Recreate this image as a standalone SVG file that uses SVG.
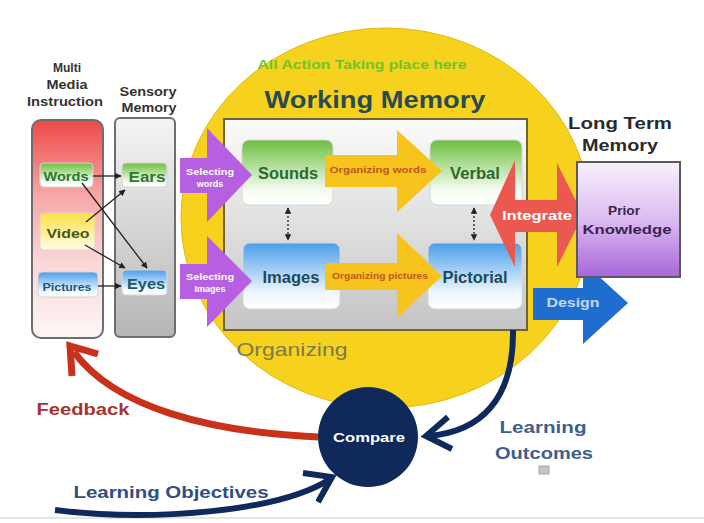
<svg xmlns="http://www.w3.org/2000/svg" width="704" height="523" viewBox="0 0 704 523">
<defs>
<style>
text{font-family:"Liberation Sans",Arial,sans-serif;font-weight:bold;text-anchor:middle}
.small{stroke:#222;stroke-width:1.3;fill:none}
.panel{stroke:#6e6e6e;stroke-width:2}
.box{stroke:#d6d6d6;stroke-width:1}
</style>
<linearGradient id="mmG" x1="0" y1="0" x2="0" y2="1"><stop offset="0" stop-color="#ee4848"/><stop offset="0.35" stop-color="#f7a8a8"/><stop offset="0.65" stop-color="#fbd6d6"/><stop offset="1" stop-color="#fdf6f6"/></linearGradient>
<linearGradient id="smG" x1="0" y1="0" x2="0" y2="1"><stop offset="0" stop-color="#f4f4f4"/><stop offset="1" stop-color="#b6b6b6"/></linearGradient>
<linearGradient id="grG" x1="0" y1="0" x2="0" y2="1"><stop offset="0" stop-color="#6cbf3e"/><stop offset="0.75" stop-color="#f2faee"/><stop offset="1" stop-color="#ffffff"/></linearGradient>
<linearGradient id="blG" x1="0" y1="0" x2="0" y2="1"><stop offset="0" stop-color="#4a9eea"/><stop offset="0.75" stop-color="#eef6fe"/><stop offset="1" stop-color="#ffffff"/></linearGradient>
<linearGradient id="yeG" x1="0" y1="0" x2="0" y2="1"><stop offset="0" stop-color="#fde046"/><stop offset="1" stop-color="#fffbe6"/></linearGradient>
<linearGradient id="wmG" x1="0" y1="0" x2="0" y2="1"><stop offset="0" stop-color="#fbfbfb"/><stop offset="1" stop-color="#c4c4c4"/></linearGradient>
<linearGradient id="puG" x1="0" y1="0" x2="0" y2="1"><stop offset="0" stop-color="#f8f0fc"/><stop offset="0.5" stop-color="#dcbcf0"/><stop offset="1" stop-color="#a866dc"/></linearGradient>
<marker id="ah" viewBox="0 0 10 10" refX="9" refY="5" markerWidth="5" markerHeight="5" orient="auto-start-reverse"><path d="M0,0 L10,5 L0,10 z" fill="#222"/></marker>
</defs>
<rect width="704" height="523" fill="#ffffff"/>
<line x1="0" y1="518" x2="704" y2="518" stroke="#dcdcdc" stroke-width="1.5"/>

<g id="working-memory-area">
<ellipse cx="386" cy="218" rx="205" ry="190" fill="#f6d21e" stroke="#e2b90e" stroke-width="1"/>
<text x="362" y="69" font-size="13" fill="#72c22a" textLength="209" lengthAdjust="spacingAndGlyphs">All Action Taking place here</text>
<text x="375" y="108" font-size="23" fill="#2a4a52" textLength="221" lengthAdjust="spacingAndGlyphs">Working Memory</text>
<rect x="224" y="119" width="303" height="211" fill="url(#wmG)" stroke="#6f6430" stroke-width="2"/>
<text x="292" y="356" font-size="19" font-weight="normal" fill="#7c7a48" textLength="111" lengthAdjust="spacingAndGlyphs" style="font-weight:normal">Organizing</text>
</g>

<g id="multimedia">
<text x="67" y="72" font-size="12" fill="#333" textLength="28" lengthAdjust="spacingAndGlyphs">Multi</text>
<text x="67" y="89" font-size="12" fill="#333" textLength="41" lengthAdjust="spacingAndGlyphs">Media</text>
<text x="65" y="106" font-size="12" fill="#333" textLength="76" lengthAdjust="spacingAndGlyphs">Instruction</text>
<rect class="panel" x="32" y="120" width="71" height="218" rx="9" fill="url(#mmG)"/>
</g>
<g id="sensory">
<text x="148" y="96" font-size="12" fill="#333" textLength="57" lengthAdjust="spacingAndGlyphs">Sensory</text>
<text x="149" y="112" font-size="12" fill="#333" textLength="55" lengthAdjust="spacingAndGlyphs">Memory</text>
<rect class="panel" x="115" y="118" width="60" height="219" rx="5" fill="url(#smG)"/>
</g>
<g id="words"><rect class="box" x="40" y="163" width="53" height="24" rx="4" fill="url(#grG)"/><text x="66" y="181" font-size="12" fill="#2c7a2a" textLength="45" lengthAdjust="spacingAndGlyphs">Words</text></g>
<g id="video"><rect class="box" x="40" y="213" width="55" height="37" rx="4" fill="url(#yeG)"/><text x="68" y="238" font-size="13" fill="#3e5a1a" textLength="43" lengthAdjust="spacingAndGlyphs">Video</text></g>
<g id="pictures"><rect class="box" x="38" y="272" width="60" height="25" rx="4" fill="url(#blG)"/><text x="67" y="291" font-size="10" fill="#1a5a7a" textLength="49" lengthAdjust="spacingAndGlyphs">Pictures</text></g>
<g id="ears"><rect class="box" x="122" y="163" width="45" height="24" rx="4" fill="url(#grG)"/><text x="147" y="182" font-size="14" fill="#2c7a2a" textLength="37" lengthAdjust="spacingAndGlyphs">Ears</text></g>
<g id="eyes"><rect class="box" x="122" y="270" width="45" height="25" rx="4" fill="url(#blG)"/><text x="146" y="289" font-size="14" fill="#1a5a6a" textLength="38" lengthAdjust="spacingAndGlyphs">Eyes</text></g>

<g id="sounds"><rect class="box" x="242" y="140" width="91" height="65" rx="7" fill="url(#grG)"/><text x="288" y="179" font-size="16" fill="#2c6a2c" textLength="60" lengthAdjust="spacingAndGlyphs">Sounds</text></g>
<g id="images"><rect class="box" x="243" y="243" width="97" height="66" rx="7" fill="url(#blG)"/><text x="291" y="283" font-size="16" fill="#1c4a5a" textLength="57" lengthAdjust="spacingAndGlyphs">Images</text></g>
<g id="verbal"><rect class="box" x="430" y="140" width="92" height="65" rx="7" fill="url(#grG)"/><text x="475" y="179" font-size="16" fill="#2c6a2c" textLength="50" lengthAdjust="spacingAndGlyphs">Verbal</text></g>
<g id="pictorial"><rect class="box" x="428" y="243" width="94" height="66" rx="7" fill="url(#blG)"/><text x="475" y="283" font-size="16" fill="#1c4a5a" textLength="65" lengthAdjust="spacingAndGlyphs">Pictorial</text></g>

<g id="organizing-words"><polygon points="325,155 397,155 397,130 442,171 397,212 397,187 325,187" fill="#f6c41c"/><text x="378" y="173" font-size="9" fill="#c0561a" textLength="97" lengthAdjust="spacingAndGlyphs">Organizing words</text></g>
<g id="organizing-pictures"><polygon points="325,263 397,263 397,233 442,276 397,318 397,290 325,290" fill="#f6c41c"/><text x="380" y="279" font-size="9" fill="#c0561a" textLength="96" lengthAdjust="spacingAndGlyphs">Organizing pictures</text></g>

<g id="selecting-words"><polygon points="180,158 207,158 207,128 252,175 207,222 207,193 180,193" fill="#b65fe0"/><text x="210" y="175" font-size="9" fill="#ffffff" textLength="48" lengthAdjust="spacingAndGlyphs">Selecting</text><text x="210" y="187" font-size="9" fill="#ffffff">words</text></g>
<g id="selecting-images"><polygon points="180,264 207,264 207,236 252,281 207,327 207,299 180,299" fill="#b65fe0"/><text x="210" y="280" font-size="9" fill="#ffffff" textLength="48" lengthAdjust="spacingAndGlyphs">Selecting</text><text x="210" y="292" font-size="9" fill="#ffffff">Images</text></g>

<g id="integrate"><polygon points="490,215 515,160 515,200 557,200 557,163 583,215 557,267 557,232 515,232 515,267" fill="#ea5850"/><text x="537" y="220" font-size="13" fill="#ffffff" textLength="70" lengthAdjust="spacingAndGlyphs">Integrate</text></g>
<g id="design"><polygon points="533,288 583,288 583,262 628,303 583,344 583,320 533,320" fill="#1f6ecf"/><text x="573" y="307" font-size="13" fill="#c6d6ee" textLength="53" lengthAdjust="spacingAndGlyphs">Design</text></g>

<g id="long-term-memory">
<text x="620" y="129" font-size="16" fill="#2a2a2a" textLength="104" lengthAdjust="spacingAndGlyphs">Long Term</text>
<text x="620" y="151" font-size="16" fill="#2a2a2a" textLength="76" lengthAdjust="spacingAndGlyphs">Memory</text>
<rect x="577" y="162" width="103" height="115" fill="url(#puG)" stroke="#5a5a5a" stroke-width="2"/>
<text x="624" y="215" font-size="13" fill="#3a2450" textLength="32" lengthAdjust="spacingAndGlyphs">Prior</text>
<text x="627" y="234" font-size="13" fill="#3a2450" textLength="89" lengthAdjust="spacingAndGlyphs">Knowledge</text>
</g>

<g id="compare"><circle cx="368" cy="437" r="50" fill="#0f2a5a"/><text x="369" y="442" font-size="13" fill="#ffffff" textLength="72" lengthAdjust="spacingAndGlyphs">Compare</text></g>

<g id="labels">
<text x="83" y="415" font-size="16" fill="#a83232" textLength="93" lengthAdjust="spacingAndGlyphs">Feedback</text>
<text x="171" y="498" font-size="16" fill="#2e4e86" textLength="195" lengthAdjust="spacingAndGlyphs">Learning Objectives</text>
<text x="543" y="433" font-size="17" fill="#3e5e8e" textLength="87" lengthAdjust="spacingAndGlyphs">Learning</text>
<text x="544" y="459" font-size="17" fill="#3e5e8e" textLength="98" lengthAdjust="spacingAndGlyphs">Outcomes</text>
<rect x="539" y="466" width="10" height="8" fill="#c4c4c4" stroke="#999" stroke-width="0.8"/>
</g>

<g id="connectors">
<line class="small" x1="93" y1="176" x2="121" y2="176" marker-end="url(#ah)"/>
<line class="small" x1="86" y1="222" x2="125" y2="190" marker-end="url(#ah)"/>
<line class="small" x1="82" y1="183" x2="147" y2="268" marker-end="url(#ah)"/>
<line class="small" x1="85" y1="245" x2="125" y2="268" marker-end="url(#ah)"/>
<line class="small" x1="98" y1="286" x2="121" y2="286" marker-end="url(#ah)"/>
<line class="small" x1="288" y1="208" x2="288" y2="240" stroke-dasharray="2,2" marker-start="url(#ah)" marker-end="url(#ah)"/>
<line class="small" x1="474" y1="208" x2="474" y2="240" stroke-dasharray="2,2" marker-start="url(#ah)" marker-end="url(#ah)"/>
<path d="M318,437 C210,432 115,408 74,352" fill="none" stroke="#c8321a" stroke-width="7"/>
<path d="M72,376 L70,346 L98,354" fill="none" stroke="#c8321a" stroke-width="7" stroke-linejoin="miter"/>
<path d="M513,330 C514,400 480,432 428,436" fill="none" stroke="#0f2a5a" stroke-width="6"/>
<path d="M448,417 L426,436 L452,449" fill="none" stroke="#0f2a5a" stroke-width="6"/>
<path d="M55,510 C150,522 280,512 330,479" fill="none" stroke="#0f2a5a" stroke-width="6"/>
<path d="M303,473 L332,477 L318,502" fill="none" stroke="#0f2a5a" stroke-width="6"/>
</g>
</svg>
